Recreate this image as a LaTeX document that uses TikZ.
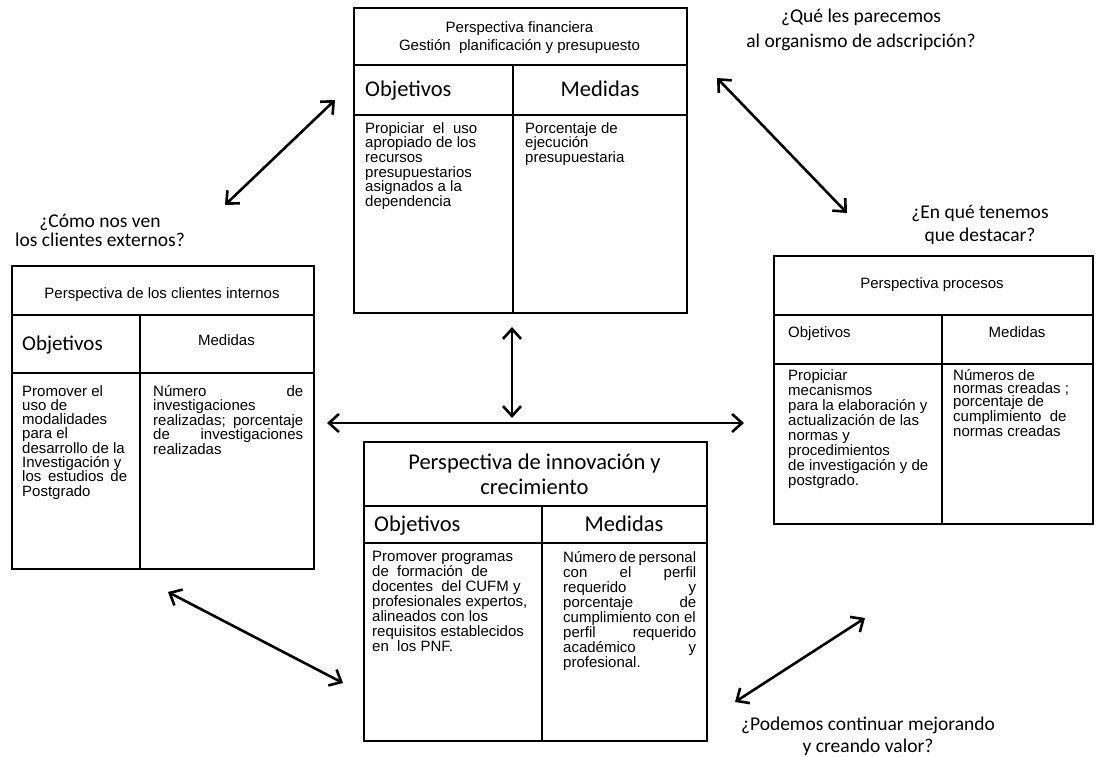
\documentclass[tikz,border=0pt]{standalone}
\usepackage{fontspec}
\usetikzlibrary{arrows.meta}
\newfontfamily\arialf{Liberation Sans}
\newfontfamily\calf{Carlito}
% a line stretched to a given column width (justified line)
\newcommand\spreadline[2]{\hbox to #1{#2}}

\begin{document}
\begin{tikzpicture}[x=1pt,y=-1pt,
  panel/.style={draw, line width=1.6pt, inner sep=0pt, anchor=north west},
  rule/.style={line width=1.6pt},
  small/.style={font=\arialf\fontsize{15}{14.7}\selectfont, inner sep=0pt},
  body/.style={font=\arialf\fontsize{15}{#1}\selectfont, inner sep=0pt, align=left, anchor=north west},
  body/.default=14.7,
  head/.style={font=\calf\fontsize{22.5}{25}\selectfont, inner sep=0pt, align=center},
  quest/.style={font=\calf\fontsize{19.5}{22}\selectfont, inner sep=0pt, align=center},
  link/.style={line width=2.6pt, {Straight Barb[length=10pt,width=18pt]}-{Straight Barb[length=10pt,width=18pt]}}
]
\useasboundingbox (0,0) rectangle (1097,757);

% ---------- financial perspective ----------
\node[panel, minimum width=333pt, minimum height=305pt] (fin) at (353,7) {};
\draw[rule] (353,65) -- (686,65);
\draw[rule] (353,115) -- (686,115);
\draw[rule] (513,65) -- (513,312);
\node[small, align=center] (fint) at (519.5,37.5) {Perspectiva financiera\\[4pt]Gestión\ \ planificación y presupuesto};
\node[head, anchor=base west] (fobj) at (365,97) {Objetivos};
\node[head, anchor=base] (fmed) at (600,97) {Medidas};
\node[body] (fobjt) at (365,122) {\spreadline{112pt}{Propiciar\hfill el\hfill uso}\\apropiado de los\\recursos\\presupuestarios\\asignados a la\\dependencia};
\node[body] (fmedt) at (525,122) {Porcentaje de\\ejecución\\presupuestaria};

% ---------- internal clients perspective ----------
\node[panel, minimum width=302pt, minimum height=303pt] (cli) at (11,265) {};
\draw[rule] (11,315) -- (313,315);
\draw[rule] (11,373) -- (313,373);
\draw[rule] (140,315) -- (140,568);
\node[small] (clit) at (162,295) {Perspectiva de los clientes internos};
\node[head, font=\calf\fontsize{21}{25}\selectfont, anchor=base west] (cobj) at (22,350) {Objetivos};
\node[small, anchor=base] (cmed) at (226.5,345) {Medidas};
\node[body=14.3] (cobjt) at (22,385) {Promover el\\uso de\\modalidades\\para el\\desarrollo de la\\Investigación y\\\spreadline{105pt}{los\hfill estudios\hfill de}\\Postgrado};
\node[body=14.5] (cmedt) at (153,385) {\spreadline{150pt}{Número\hfill de}\\investigaciones\\\spreadline{150pt}{realizadas;\hfill porcentaje}\\\spreadline{150pt}{de\hfill investigaciones}\\realizadas};

% ---------- process perspective ----------
\node[panel, minimum width=319pt, minimum height=268pt] (pro) at (773,255) {};
\draw[rule] (773,315) -- (1092,315);
\draw[rule] (773,364) -- (1092,364);
\draw[rule] (942,315) -- (942,523);
\node[small] (prot) at (932,285) {Perspectiva procesos};
\node[small, anchor=base west] (pobj) at (788,337) {Objetivos};
\node[small, anchor=base] (pmed) at (1017,337) {Medidas};
\node[body=15] (pobjt) at (788,369) {Propiciar\\mecanismos\\para la elaboración y\\actualización de las\\normas y\\procedimientos\\de investigación y de\\postgrado.};
\node[body=13.3] (pmedt) at (953,369) {Números de\\normas creadas ;\\porcentaje de\\cumplimiento\ \ de\\normas creadas};

% ---------- innovation and growth perspective ----------
\node[panel, minimum width=343pt, minimum height=299pt] (inn) at (363,441) {};
\draw[rule] (363,506) -- (706,506);
\draw[rule] (363,543) -- (706,543);
\draw[rule] (542,506) -- (542,740);
\node[head] (innt) at (534.5,474.5) {Perspectiva de innovación y\\crecimiento};
\node[head, anchor=base west] (iobj) at (374,531) {Objetivos};
\node[head, anchor=base] (imed) at (624,531) {Medidas};
\node[body=15] (iobjt) at (372,551) {Promover programas\\de\ \ formación\ \ de\\docentes\ \ del CUFM y\\profesionales expertos,\\alineados con los\\requisitos establecidos\\en\ \ los PNF.};
\node[body=13.8] (imedt) at (563,551) {\spreadline{133pt}{Número\hfill de\hfill personal}\\\spreadline{133pt}{con\hfill el\hfill perfil}\\\spreadline{133pt}{requerido\hfill y}\\\spreadline{133pt}{porcentaje\hfill de}\\cumplimiento con el\\\spreadline{133pt}{perfil\hfill requerido}\\\spreadline{133pt}{académico\hfill y}\\profesional.};

% ---------- questions ----------
\node[quest] (qfin) at (861,29.5) {¿Qué les parecemos\\[3pt]al organismo de adscripción?};
\node[quest] (qcli) at (100,230.5) {¿Cómo nos ven\\[-3pt]los clientes externos?};
\node[quest] (qpro) at (980,224.5) {¿En qué tenemos\\[1pt]que destacar?};
\node[quest] (qinn) at (868,736) {¿Podemos continuar mejorando\\y creando valor?};

% ---------- two-way links ----------
\coordinate (l1a) at (225,205);  \coordinate (l1b) at (335,100);
\coordinate (l2a) at (717,78);   \coordinate (l2b) at (847,213);
\coordinate (l3a) at (512,327);  \coordinate (l3b) at (512,418);
\coordinate (l4a) at (327,423);  \coordinate (l4b) at (744,423);
\coordinate (l5a) at (168,592);  \coordinate (l5b) at (343,683);
\coordinate (l6a) at (735,702);  \coordinate (l6b) at (865,618);
\draw[link] (l1a) -- (l1b);
\draw[link] (l2a) -- (l2b);
\draw[link] (l3a) -- (l3b);
\draw[link] (l4a) -- (l4b);
\draw[link] (l5a) -- (l5b);
\draw[link] (l6a) -- (l6b);
\end{tikzpicture}
\end{document}
